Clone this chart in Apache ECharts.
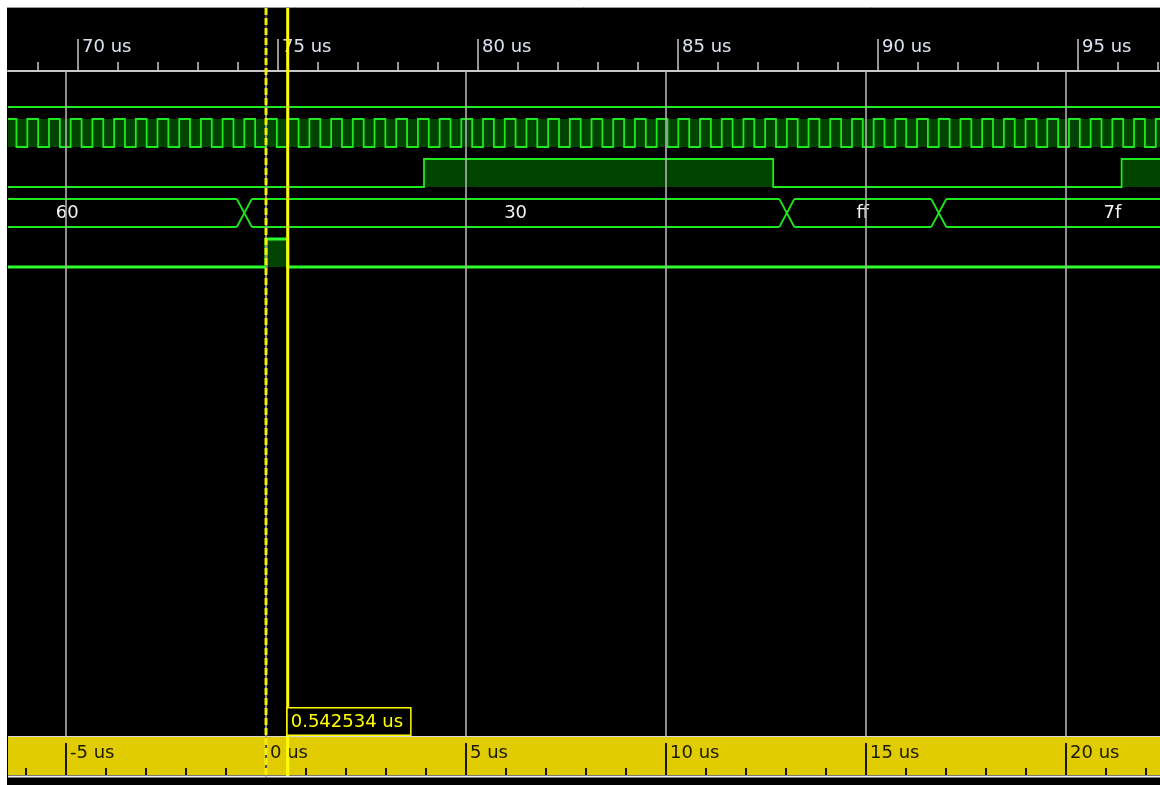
<!DOCTYPE html>
<html>
<head>
<meta charset="utf-8">
<title>Waveform</title>
<script src="https://cdn.jsdelivr.net/npm/echarts@6/dist/echarts.min.js"></script>
<style>
  html, body { margin: 0; padding: 0; background: #ffffff; }
  #chart { width: 1160px; height: 785px; }
</style>
</head>
<body>
<div id="chart"></div>
<script>
// ---- visible time window (absolute time, us) ----
const viewStart = 68.25;
const viewEnd = 97.05;

// ---- markers ----
const baseMarker = 74.7004;       // dashed marker (origin of the lower ruler)
const cursorDelta = 0.542534;     // solid cursor, relative to the marker

// ---- upper ruler ticks (absolute, us) ----
const topMajorTicks = [70, 75, 80, 85, 90, 95];
const topMinorTicks = [69, 71, 72, 73, 74, 76, 77, 78, 79, 81, 82, 83, 84, 86, 87, 88, 89, 91, 92, 93, 94, 96, 97];

// ---- lower ruler ticks (relative to marker, us) ----
const bottomMajorTicks = [-5, 0, 5, 10, 15, 20];
const bottomMinorTicks = [-6, -4, -3, -2, -1, 1, 2, 3, 4, 6, 7, 8, 9, 11, 12, 13, 14, 16, 17, 18, 19, 21, 22];

// ---- clock: rising edges (us) and high time ----
const clockRise = [
  68.1900, 68.7325, 69.2751, 69.8176, 70.3601, 70.9027, 71.4452, 71.9877, 72.5303, 73.0728,
  73.6153, 74.1579, 74.7004, 75.2429, 75.7855, 76.3280, 76.8705, 77.4131, 77.9556, 78.4981,
  79.0407, 79.5832, 80.1257, 80.6683, 81.2108, 81.7533, 82.2959, 82.8384, 83.3809, 83.9235,
  84.4660, 85.0085, 85.5511, 86.0936, 86.6361, 87.1787, 87.7212, 88.2637, 88.8063, 89.3488,
  89.8913, 90.4339, 90.9764, 91.5189, 92.0615, 92.6040, 93.1465, 93.6891, 94.2316, 94.7741,
  95.3167, 95.8592, 96.4017, 96.9443, 97.4868
];
const clockHighTime = 0.2713;

// ---- single-bit signals: [time, level] changes ----
const idleSignal = [[60.0, 0]];
const enableSignal = [[60.0, 0], [78.65, 1], [87.38, 0], [96.09, 1]];
const strobeSignal = [[60.0, 0], [74.7004, 1], [75.2429, 0]];

// ---- data bus: value segments ----
const busStarts = [65.30, 74.158, 87.721, 91.519];
const busEnds = [74.158, 87.721, 91.519, 100.20];
const busValues = ['60', '30', 'ff', '7f'];

// ---- colours ----
const TRACE = '#1ee81e';
const TRACE_BRIGHT = '#2bff2b';
const FILL = '#004400';
const GRID_LINE = '#b0b0b0';
const MARKER = '#ffff00';
const FONT = 'DejaVu Sans';

const relMin = viewStart - baseMarker;
const relMax = viewEnd - baseMarker;

function fmtUs(v) { return v + ' us'; }

// Split a change list into visible [a, b, level] pieces.
function visibleSegments(events) {
  const segs = [];
  for (let i = 0; i < events.length; i++) {
    const a = Math.max(events[i][0], viewStart);
    const b = Math.min(i + 1 < events.length ? events[i + 1][0] : viewEnd, viewEnd);
    if (b > a) segs.push([a, b, events[i][1]]);
  }
  return segs;
}

// Draw one bit-wide trace on row `row`.
function digitalTrace(api, events, row, opt) {
  const yHi = row + 0.2, yLo = row + 0.9;
  const segs = visibleSegments(events);
  const children = [];
  const pts = [];
  segs.forEach(function (s) {
    const y = s[2] ? yHi : yLo;
    const a = api.coord([s[0], y]);
    const b = api.coord([s[1], y]);
    if (s[2] || opt.fillBand) {
      const tl = api.coord([s[0], yHi]);
      const br = api.coord([s[1], yLo]);
      children.push({ type: 'rect', shape: { x: tl[0], y: tl[1], width: br[0] - tl[0], height: br[1] - tl[1] },
        style: { fill: FILL, stroke: null } });
    }
    pts.push(a, b);
  });
  children.push({ type: 'polyline', shape: { points: pts },
    style: { stroke: opt.color || TRACE, lineWidth: opt.width || 1.8, fill: null } });
  return children;
}

// Draw the multi-bit bus with value labels.
function busTrace(api, row) {
  const yHi = row + 0.2, yLo = row + 0.9;
  const half = 7.5;
  const children = [];
  const leftPx = api.coord([viewStart, yHi])[0];
  const rightPx = api.coord([viewEnd, yHi])[0];
  const lw = 1.8;
  for (let i = 0; i < busValues.length; i++) {
    const pa = api.coord([busStarts[i], yHi]);
    const pb = api.coord([busEnds[i], yLo]);
    const l = busStarts[i] > viewStart ? pa[0] + half : leftPx;
    const r = busEnds[i] < viewEnd ? pb[0] - half : rightPx;
    if (r > l) {
      children.push({ type: 'line', shape: { x1: l, y1: pa[1], x2: r, y2: pa[1] },
        style: { stroke: TRACE, lineWidth: lw } });
      children.push({ type: 'line', shape: { x1: l, y1: pb[1], x2: r, y2: pb[1] },
        style: { stroke: TRACE, lineWidth: lw } });
    }
    if (i > 0 && busStarts[i] > viewStart && busStarts[i] < viewEnd) {
      children.push({ type: 'line', shape: { x1: pa[0] - half, y1: pa[1], x2: pa[0] + half, y2: pb[1] },
        style: { stroke: TRACE, lineWidth: lw } });
      children.push({ type: 'line', shape: { x1: pa[0] - half, y1: pb[1], x2: pa[0] + half, y2: pa[1] },
        style: { stroke: TRACE, lineWidth: lw } });
    }
    const mid = api.coord([(busStarts[i] + busEnds[i]) / 2, (yHi + yLo) / 2]);
    children.push({ type: 'text', x: mid[0], y: mid[1],
      style: { text: busValues[i], fill: '#f4f4f4', font: '18px "' + FONT + '"', align: 'center', verticalAlign: 'middle' } });
  }
  return children;
}

const clockEvents = [];
clockRise.forEach(function (r) { clockEvents.push([r, 1], [r + clockHighTime, 0]); });

const chart = echarts.init(document.getElementById('chart'), null, { renderer: 'canvas' });

const option = {
  backgroundColor: '#000000',
  animation: false,
  grid: [
    { left: 8, right: 0, top: 71, height: 666, show: false },
    { left: 8, right: 0, top: 737, height: 38, show: true, backgroundColor: '#e0cc00', borderWidth: 0 }
  ],
  xAxis: [
    { // upper ruler, major ticks + labels
      gridIndex: 0, type: 'value', position: 'top', min: viewStart, max: viewEnd,
      axisLine: { show: true, lineStyle: { color: '#c8c8c8', width: 2 } },
      axisTick: { show: true, inside: false, length: 32, customValues: topMajorTicks,
        lineStyle: { color: '#c8c8c8', width: 1.5 } },
      axisLabel: { show: true, customValues: topMajorTicks, formatter: fmtUs, color: '#dce4f2',
        fontFamily: FONT, fontSize: 18, align: 'left', verticalAlign: 'middle', margin: 24, padding: [0, 0, 0, 4] },
      splitLine: { show: false }
    },
    { // upper ruler, minor ticks
      gridIndex: 0, type: 'value', position: 'top', min: viewStart, max: viewEnd,
      axisLine: { show: false },
      axisTick: { show: true, inside: false, length: 9, customValues: topMinorTicks,
        lineStyle: { color: '#c8c8c8', width: 1.5 } },
      axisLabel: { show: false },
      splitLine: { show: false }
    },
    { // lower ruler (relative time), major ticks + labels
      gridIndex: 1, type: 'value', position: 'bottom', min: relMin, max: relMax,
      axisLine: { show: false },
      axisTick: { show: true, inside: true, length: 32, customValues: bottomMajorTicks,
        lineStyle: { color: '#1a1a00', width: 2 } },
      axisLabel: { show: true, inside: true, customValues: bottomMajorTicks, formatter: fmtUs, color: '#1a1a00',
        fontFamily: FONT, fontSize: 18, align: 'left', verticalAlign: 'middle', margin: 22, padding: [0, 0, 0, 4] },
      splitLine: { show: false }
    },
    { // lower ruler, minor ticks
      gridIndex: 1, type: 'value', position: 'bottom', min: relMin, max: relMax,
      axisLine: { show: false },
      axisTick: { show: true, inside: true, length: 7, customValues: bottomMinorTicks,
        lineStyle: { color: '#1a1a00', width: 2 } },
      axisLabel: { show: false },
      splitLine: { show: false }
    }
  ],
  yAxis: [
    { gridIndex: 0, type: 'value', min: 0, max: 16.65, inverse: true, show: false },
    { gridIndex: 1, type: 'value', min: 0, max: 1, show: false }
  ],
  graphic: [
    { type: 'rect', shape: { x: 0, y: 0, width: 1160, height: 7 }, style: { fill: '#ffffff' }, z: 100 },
    { type: 'rect', shape: { x: 0, y: 0, width: 7, height: 785 }, style: { fill: '#ffffff' }, z: 100 },
    { type: 'line', shape: { x1: 7, y1: 7.5, x2: 1160, y2: 7.5 }, style: { stroke: '#9a9a9a', lineWidth: 1 }, z: 100 },
    { type: 'line', shape: { x1: 8, y1: 736.5, x2: 1160, y2: 736.5 }, style: { stroke: '#d8d8d8', lineWidth: 1 }, z: 1 },
    { type: 'rect', shape: { x: 8, y: 775.5, width: 1152, height: 2 }, style: { fill: '#f2f2f2' }, z: 1 }
  ],
  series: [
    { // signal traces
      type: 'custom', xAxisIndex: 0, yAxisIndex: 0, z: 2,
      data: [[viewStart, 0]],
      renderItem: function (params, api) {
        let ch = [];
        ch = ch.concat(digitalTrace(api, idleSignal, 0, {}));
        ch = ch.concat(digitalTrace(api, clockEvents, 1, { fillBand: true }));
        ch = ch.concat(digitalTrace(api, enableSignal, 2, {}));
        ch = ch.concat(busTrace(api, 3));
        ch = ch.concat(digitalTrace(api, strobeSignal, 4, { color: TRACE_BRIGHT, width: 3 }));
        return { type: 'group', children: ch };
      }
    },
    { // vertical grid lines at the lower ruler's major ticks
      type: 'custom', xAxisIndex: 0, yAxisIndex: 0, z: 3,
      data: bottomMajorTicks.map(function (r) { return [baseMarker + r, 0]; }),
      renderItem: function (params, api) {
        const top = api.coord([api.value(0), 0]);
        const bot = api.coord([api.value(0), 16.65]);
        return { type: 'line', shape: { x1: top[0], y1: top[1], x2: bot[0], y2: bot[1] - 1 },
          style: { stroke: GRID_LINE, lineWidth: 1.6 } };
      }
    },
    { // marker and cursor
      type: 'custom', xAxisIndex: 0, yAxisIndex: 0, z: 10, clip: false,
      data: [[baseMarker, 0]],
      renderItem: function (params, api) {
        const m = api.coord([baseMarker, 0])[0];
        const c = api.coord([baseMarker + cursorDelta, 0])[0];
        return { type: 'group', children: [
          { type: 'line', shape: { x1: m, y1: 8, x2: m, y2: 777 }, style: { stroke: '#8a8a8a', lineWidth: 1 } },
          { type: 'line', shape: { x1: m, y1: 8, x2: m, y2: 777 }, style: { stroke: '#f4ee00', lineWidth: 3, lineDash: [7, 3] } },
          { type: 'line', shape: { x1: c, y1: 8, x2: c, y2: 776 }, style: { stroke: MARKER, lineWidth: 3 } },
          { type: 'text', x: c, y: 734.5,
            style: { text: cursorDelta.toFixed(6) + ' us', fill: MARKER, font: '18px "' + FONT + '"',
              align: 'left', verticalAlign: 'bottom', backgroundColor: '#000000',
              borderColor: MARKER, borderWidth: 1.5, padding: [5, 7, 3, 3] } }
        ] };
      }
    }
  ]
};

chart.setOption(option);
</script>
</body>
</html>
